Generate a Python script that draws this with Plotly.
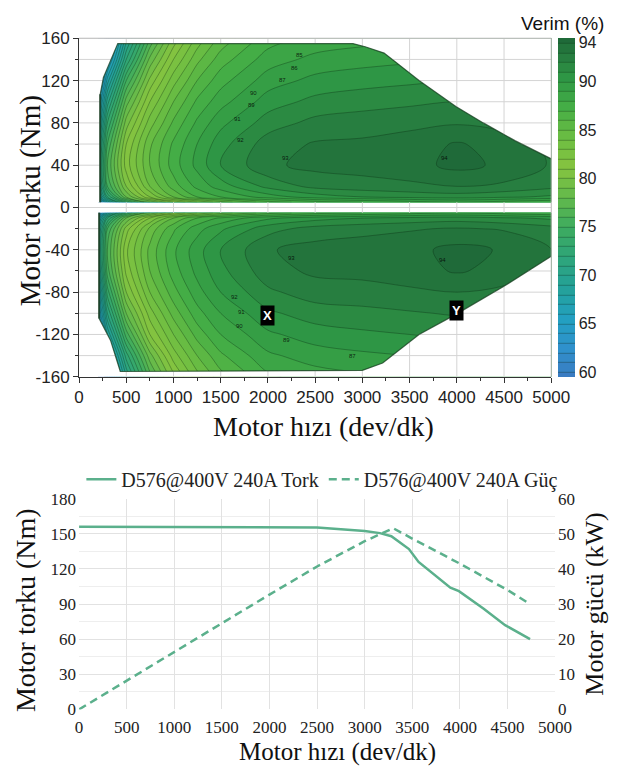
import numpy as np
import plotly.graph_objects as go

W, H = 627, 776
SERIF = "Liberation Serif, Times New Roman, serif"
SANS = "Liberation Sans, Arial, sans-serif"

# ---------------- Efficiency map (Verim %) ----------------
speed_grid = [200, 300, 500, 750, 1000, 1250, 1500, 2000, 2500, 3000, 3500, 4000, 4500, 5000]

# motoring quadrant (positive torque), rows follow torque_motor
torque_motor = [5, 10, 20, 40, 60, 80, 100, 120, 140, 160]
eff_motor = [
    [62, 68, 74, 78, 81, 83, 84.5, 86.5, 87.5, 88, 88.5, 89, 88.5, 88],
    [66, 72, 78, 82, 85, 87, 88, 89.5, 90.5, 91, 91.3, 91.5, 91.2, 90.8],
    [68, 75, 80, 84, 86.5, 88.3, 89.5, 91.3, 92.3, 92.6, 92.8, 93, 92.8, 92.3],
    [69, 76, 81.5, 85, 87.5, 89.3, 91, 92.8, 93.3, 93.4, 93.6, 94.3, 93.8, 92.9],
    [68, 75, 81, 84.8, 87.2, 89, 90.6, 92.5, 93.1, 93.2, 93.5, 94.1, 93.6, 92.7],
    [66, 73, 79.5, 83.5, 86.2, 88.2, 89.7, 91.5, 92.3, 92.5, 92.7, 92.9, 92.6, 92],
    [64, 70.5, 77.5, 82, 85, 87.2, 88.6, 90.5, 91.3, 91.6, 91.8, 92, 91.8, 91.5],
    [61, 67.5, 75, 80.3, 83.6, 86, 87.6, 89.5, 90.3, 90.6, 90.8, 91, 91, 91],
    [58, 64, 72, 78.3, 82, 84.7, 86.5, 88.5, 89.3, 89.6, 89.8, 90, 90, 90],
    [56, 61.5, 69.5, 76, 80.3, 83.3, 85.3, 87.5, 88.3, 88.6, 88.8, 89, 89, 89],
]

# generating quadrant (negative torque), rows follow torque_gen
torque_gen = [-160, -140, -120, -100, -80, -60, -40, -20, -10, -5]
eff_gen = [
    [56, 62, 70, 76.5, 80.8, 83.6, 85.6, 87.8, 88.5, 88.8, 89, 89.2, 89.1, 89],
    [58, 64.5, 72.5, 78.6, 82.5, 85, 86.8, 88.8, 89.5, 89.8, 90, 90.2, 90.1, 90],
    [61, 68, 75.5, 81, 84, 86.4, 88, 89.8, 90.5, 90.8, 91, 91.2, 91.1, 91],
    [64, 71, 78, 82.5, 85.4, 87.6, 89, 90.8, 91.5, 91.7, 91.9, 92.1, 92, 91.6],
    [66, 73.5, 80, 84, 86.6, 88.6, 90, 91.8, 92.5, 92.6, 92.8, 93, 92.7, 92.2],
    [68, 75.5, 81.3, 85, 87.5, 89.3, 90.7, 92.6, 93.2, 93.3, 93.6, 94.1, 93.7, 92.8],
    [69, 76, 81.8, 85.3, 87.8, 89.6, 91, 92.9, 93.4, 93.5, 93.7, 94.3, 93.9, 93],
    [68, 75, 80.5, 84.3, 86.8, 88.6, 89.8, 91.6, 92.4, 92.7, 92.9, 93.1, 92.9, 92.4],
    [66, 72, 78, 82, 85, 87, 88.2, 89.8, 90.6, 91, 91.3, 91.5, 91.2, 90.8],
    [62, 68, 74, 78, 81, 83, 84.5, 86.5, 87.5, 88, 88.5, 89, 88.5, 88],
]

# operating envelope (torque limit) of each quadrant
env_top_speed = [224, 224, 258, 410, 2900, 3030, 3230, 3360, 3600, 3990, 4280, 4620, 5000]
env_top_torque = [5, 107, 123, 155, 155, 152, 146, 137, 120, 95.5, 80, 63, 46]
env_bot_speed = [213, 213, 335, 436, 3000, 3215, 3600, 3990, 4490, 5000]
env_bot_torque = [-5, -105, -126, -155, -154, -147, -120, -101, -75, -46]

# marked operating points
point_names = ["X", "Y"]
point_speed = [2000, 4000]
point_torque = [-102, -97]

# small iso-efficiency labels on the map
iso_text = ["93", "94", "92", "91", "90", "89", "87", "86", "85",
            "93", "94", "92", "91", "90", "89", "87"]
iso_speed = [2190, 3870, 1710, 1680, 1850, 1830, 2150, 2280, 2330,
             2250, 3850, 1650, 1720, 1700, 2200, 2900]
iso_torque = [47, 47, 64, 84, 108, 97, 121, 132, 144,
              -48, -50, -85, -99, -112, -125, -140]

# ---------------- Torque / power curves ----------------
speed_torque = [0, 500, 1000, 1500, 2000, 2500, 3000, 3160, 3280, 3465, 3566, 3717, 3900, 3990, 4250, 4475, 4737]
torque_curve = [156, 156, 156, 156, 156, 155.5, 152.5, 150.6, 148, 137, 126, 116, 104, 101, 86, 72, 60]
speed_power = [0, 500, 1000, 1500, 2000, 2500, 3000, 3300, 3475, 4000, 4500, 4737]
power_curve = [0, 8.2, 16.3, 24.5, 32.7, 40.7, 47.9, 51.6, 49, 41.5, 34, 30]

x_ticks_top = list(range(0, 5001, 500))
y_ticks_top = list(range(-160, 161, 40))

colorscale = [
    [0.000, "#3a7cc2"], [0.088, "#2f92cc"], [0.176, "#22a0c0"], [0.265, "#24a199"],
    [0.353, "#2ea57a"], [0.441, "#3dab5f"], [0.529, "#62b94c"], [0.618, "#86c440"],
    [0.706, "#6cbd43"], [0.794, "#45ae46"], [0.882, "#2f9845"], [0.941, "#277f40"],
    [1.000, "#1f6a39"],
]

fig = go.Figure()

contour_style = dict(
    x=speed_grid, coloraxis="coloraxis",
    contours=dict(start=60, end=94, size=1, coloring="fill"),
    line=dict(color="rgba(10,40,15,0.55)", width=0.6, smoothing=1.0),
    hoverinfo="skip", xaxis="x", yaxis="y", showlegend=False,
)
fig.add_trace(go.Contour(y=torque_motor, z=eff_motor, **contour_style))
fig.add_trace(go.Contour(y=torque_gen, z=eff_gen, **contour_style))

# white masks outside the operating envelope
top_mask_x = [150] + env_top_speed + [5100, 5100, 150]
top_mask_y = [env_top_torque[0]] + env_top_torque + [env_top_torque[-1], 175, 175]
bot_mask_x = [150] + env_bot_speed + [5100, 5100, 150]
bot_mask_y = [env_bot_torque[0]] + env_bot_torque + [env_bot_torque[-1], -175, -175]
for mx, my in ((top_mask_x, top_mask_y), (bot_mask_x, bot_mask_y)):
    fig.add_trace(go.Scatter(x=mx, y=my, mode="lines", fill="toself", fillcolor="white",
                             line=dict(width=0), hoverinfo="skip", showlegend=False,
                             xaxis="x", yaxis="y"))

# grid lines, visible only in the empty (white) part of the map
t_left_s, t_left_t = env_top_speed[:4], env_top_torque[:4]
t_right_s, t_right_t = env_top_speed[3:], env_top_torque[3:]
b_left_s, b_left_t = env_bot_speed[:4], env_bot_torque[:4]
b_right_s, b_right_t = env_bot_speed[3:], env_bot_torque[3:]

gx, gy = [], []
def seg(x0, x1, y0, y1):
    gx.extend([x0, x1, None])
    gy.extend([y0, y1, None])

for X in range(500, 5000, 500):
    tmax = float(np.interp(X, t_right_s, t_right_t))
    tmin = float(np.interp(X, b_right_s, b_right_t))
    seg(X, X, tmax, 160)
    seg(X, X, -5, 5)
    seg(X, X, -160, tmin)

for Y in range(-140, 141, 20):
    if Y == 0:
        seg(0, 5000, 0, 0)
    elif Y > 0:
        xl = float(np.interp(Y, t_left_t, t_left_s))
        xr = float(np.interp(Y, t_right_t[::-1], t_right_s[::-1]))
        seg(0, xl, Y, Y)
        if xr < 5000:
            seg(xr, 5000, Y, Y)
    else:
        xl = float(np.interp(Y, b_left_t[::-1], b_left_s[::-1]))
        xr = float(np.interp(Y, b_right_t, b_right_s))
        seg(0, xl, Y, Y)
        if xr < 5000:
            seg(xr, 5000, Y, Y)

fig.add_trace(go.Scatter(x=gx, y=gy, mode="lines", line=dict(color="#d4d4d4", width=1),
                         hoverinfo="skip", showlegend=False, xaxis="x", yaxis="y"))

# envelope outline; the low-speed edge is drawn a little heavier
fig.add_trace(go.Scatter(x=env_top_speed + [None] + env_bot_speed,
                         y=env_top_torque + [None] + env_bot_torque,
                         mode="lines", line=dict(color="rgba(20,60,30,0.75)", width=1.2),
                         hoverinfo="skip", showlegend=False, xaxis="x", yaxis="y"))
fig.add_trace(go.Scatter(x=env_top_speed[:2] + [None] + env_bot_speed[:2],
                         y=env_top_torque[:2] + [None] + env_bot_torque[:2],
                         mode="lines", line=dict(color="rgba(20,55,30,0.7)", width=2.2),
                         hoverinfo="skip", showlegend=False, xaxis="x", yaxis="y"))

# torque and power curves
line_color = "#5bb08c"
fig.add_trace(go.Scatter(x=speed_torque, y=torque_curve, mode="lines",
                         name="D576@400V 240A Tork",
                         line=dict(color=line_color, width=2.5),
                         xaxis="x2", yaxis="y2"))
fig.add_trace(go.Scatter(x=speed_power, y=power_curve, mode="lines",
                         name="D576@400V 240A Güç",
                         line=dict(color=line_color, width=2.5, dash="8px,5px"),
                         xaxis="x2", yaxis="y3"))

tick_sans = dict(family=SANS, size=17, color="#222")
tick_serif = dict(family=SERIF, size=17, color="#222")

annotations = []
def title(text, px, py, size, angle=0, family=SERIF):
    annotations.append(dict(text=text, x=px / W, y=1 - py / H, xref="paper", yref="paper",
                            showarrow=False, textangle=angle, xanchor="center", yanchor="middle",
                            font=dict(family=family, size=size, color="#111")))

title("Motor torku (Nm)", 26, 197, 29, -90)
title("Motor hızı (dev/dk)", 331, 428, 28)
title("Verim (%)", 580, 15, 19, 0, SANS)
title("Motor torku (Nm)", 22, 616, 28, -90)
title("Motor hızı (dev/dk)", 346, 762, 25)
title("Motor gücü (kW)", 612, 610, 26, -90)

for name, sx, ty in zip(point_names, point_speed, point_torque):
    annotations.append(dict(text=f"<b>{name}</b>", x=sx, y=ty, xref="x", yref="y",
                            showarrow=False, bgcolor="black", borderpad=2,
                            font=dict(family=SANS, size=13, color="white")))

for t, sx, ty in zip(iso_text, iso_speed, iso_torque):
    annotations.append(dict(text=t, x=sx, y=ty, xref="x", yref="y", showarrow=False,
                            font=dict(family=SANS, size=6, color="rgba(0,0,0,0.8)")))

fig.update_layout(
    width=W, height=H, margin=dict(l=0, r=0, t=0, b=0),
    paper_bgcolor="white", plot_bgcolor="white",
    coloraxis=dict(
        cmin=60, cmax=94, colorscale=colorscale,
        colorbar=dict(x=575 / W, xanchor="left", y=1 - 203.5 / H, yanchor="middle",
                      len=347 / H, lenmode="fraction", thickness=17, xpad=0, ypad=0,
                      outlinewidth=0, tickvals=[60, 65, 70, 75, 80, 85, 90, 94],
                      ticks="", tickfont=dict(family=SANS, size=16, color="#222")),
    ),
    xaxis=dict(domain=[77 / W, 568 / W], anchor="y", range=[0, 5000],
               tickvals=x_ticks_top, ticktext=[str(v) for v in x_ticks_top],
               showgrid=False, zeroline=False, showline=True, linecolor="#333",
               ticks="outside", ticklen=5, tickcolor="#333", tickfont=tick_sans,
               minor=dict(dtick=250, tick0=0, ticks="outside", ticklen=3,
                          tickcolor="#333", showgrid=False)),
    yaxis=dict(domain=[1 - 377 / H, 1 - 30 / H], anchor="x", range=[-160, 160],
               tickvals=y_ticks_top, ticktext=[str(v) for v in y_ticks_top],
               showgrid=False, zeroline=False, showline=True, linecolor="#333",
               ticks="outside", ticklen=5, tickcolor="#333", tickfont=tick_sans,
               minor=dict(dtick=20, tick0=0, ticks="outside", ticklen=3,
                          tickcolor="#333", showgrid=False)),
    xaxis2=dict(domain=[77 / W, 572 / W], anchor="y2", range=[0, 5000], dtick=500,
                showgrid=True, gridcolor="#e2e2e2", zeroline=False, showline=False,
                ticks="", tickfont=tick_serif, ticklabelstandoff=6),
    yaxis2=dict(domain=[1 - 718 / H, 1 - 502 / H], anchor="x2", range=[0, 180], dtick=30,
                showgrid=True, gridcolor="#e2e2e2", zeroline=False, showline=False,
                ticks="", tickfont=tick_serif, ticklabelstandoff=2,
                minor=dict(dtick=15, showgrid=True, gridcolor="#eeeeee")),
    yaxis3=dict(overlaying="y2", side="right", anchor="x2", range=[0, 60], dtick=10,
                showgrid=False, zeroline=False, showline=False, ticks="",
                tickfont=tick_serif, ticklabelstandoff=2),
    legend=dict(orientation="h", x=330 / W, xanchor="center", y=1 - 482 / H, yanchor="middle",
                font=dict(family=SERIF, size=20, color="#222"), itemwidth=30,
                bgcolor="rgba(0,0,0,0)"),
    annotations=annotations,
    shapes=[
        dict(type="line", xref="x domain", yref="y domain", x0=0, x1=1, y0=1, y1=1,
             line=dict(color="#b5b5b5", width=1), layer="above"),
        dict(type="line", xref="x domain", yref="y domain", x0=1, x1=1, y0=0, y1=1,
             line=dict(color="#b5b5b5", width=1), layer="above"),
    ],
)

fig.write_html("out.html")
